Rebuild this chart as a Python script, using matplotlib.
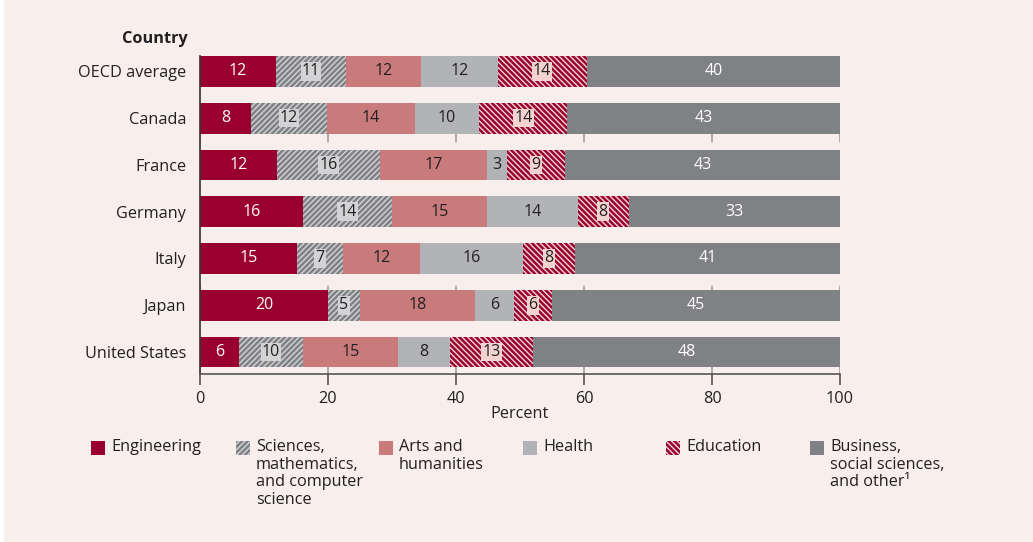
import numpy as np
import matplotlib.pyplot as plt
from matplotlib.patches import Rectangle

plt.rcParams['font.family'] = ['Open Sans', 'DejaVu Sans']
plt.rcParams['hatch.linewidth'] = 1.8

countries = ['OECD average', 'Canada', 'France', 'Germany', 'Italy', 'Japan', 'United States']
fields = ['Engineering', 'Sciences,\nmathematics,\nand computer\nscience', 'Arts and\nhumanities',
          'Health', 'Education', 'Business,\nsocial sciences,\nand other\u00b9']

engineering = [11.9, 8.0, 12.1, 16.1, 15.2, 20.0, 6.1]
sciences = [10.9, 11.8, 16.0, 13.9, 7.1, 5.0, 10.0]
arts = [11.8, 13.8, 16.8, 14.9, 12.1, 18.0, 14.8]
health = [11.9, 10.0, 3.0, 14.1, 16.0, 6.1, 8.2]
education = [13.9, 13.8, 9.1, 8.0, 8.2, 5.9, 12.9]
business = [39.6, 42.6, 43.0, 33.0, 41.4, 45.0, 48.0]

bg = '#f8eeec'
txt = '#231f20'
crimson = '#990030'
styles = [
    dict(color=crimson, hatch=None, edge=crimson, lab='white', box=None),
    dict(color='#d3d3d5', hatch='//////', edge='#808184', lab=txt, box='#d3d3d5'),
    dict(color='#c87b7a', hatch=None, edge='#c87b7a', lab=txt, box=None),
    dict(color='#b1b3b6', hatch=None, edge='#b1b3b6', lab=txt, box=None),
    dict(color='#f2d3cf', hatch='\\\\\\\\\\\\', edge=crimson, lab=txt, box='#f2d3cf'),
    dict(color='#808184', hatch=None, edge='#808184', lab='white', box=None),
]
series = [engineering, sciences, arts, health, education, business]

fig = plt.figure(figsize=(10.33, 5.42), dpi=100, facecolor='white')
fig.add_artist(Rectangle((4 / 1033, 0), 1, 1, transform=fig.transFigure, facecolor=bg,
                         edgecolor='none', zorder=-10))
ax = fig.add_axes([200 / 1033, 1 - 374 / 542, 640 / 1033, 318 / 542])
ax.set_facecolor(bg)

y = np.arange(len(countries))
left = np.zeros(len(countries))
for vals, st in zip(series, styles):
    vals = np.array(vals)
    ax.barh(y, vals, left=left, height=0.66, color=st['color'], hatch=st['hatch'],
            edgecolor=st['edge'], linewidth=0, zorder=2)
    for yi, l, v in zip(y, left, vals):
        bbox = None
        if st['box']:
            bbox = dict(boxstyle='square,pad=0.08', facecolor=st['box'], edgecolor='none')
        ax.text(l + v / 2, yi, f'{v:.0f}', ha='center', va='center', fontsize=11.5,
                color=st['lab'], bbox=bbox, zorder=3)
    left += vals

ax.set_xlim(0, 100)
ax.set_ylim(6.47, -0.33)
ax.set_xticks([0, 20, 40, 60, 80, 100])
ax.set_yticks(y)
ax.set_yticklabels(countries)
ax.tick_params(axis='y', length=0, pad=10, labelsize=11.7, labelcolor=txt)
ax.tick_params(axis='x', length=8, width=1.2, color='#555555', labelsize=11.7, labelcolor=txt, pad=4)
ax.xaxis.grid(True, color='#9d9d9f', linewidth=1.2, linestyle=(2, (8, 39)), zorder=0)
for s in ['top', 'right']:
    ax.spines[s].set_visible(False)
ax.spines['left'].set_color('#333333')
ax.spines['bottom'].set_color('#555555')
ax.spines['left'].set_linewidth(1.2)
ax.spines['bottom'].set_linewidth(1.2)
ax.set_xlabel('Percent', fontsize=11.7, color=txt, va='center')
ax.xaxis.set_label_coords(0.5, -0.126)
fig.text(188 / 1033, 1 - 39 / 542, 'Country', ha='right', va='center', fontsize=11.7,
         fontweight='bold', color=txt)

# legend
leg_x = [91, 236, 379, 523, 666, 810]
for lx, name, st in zip(leg_x, fields, styles):
    fig.add_artist(Rectangle((lx / 1033, 1 - 455 / 542), 14 / 1033, 14 / 542,
                             transform=fig.transFigure, facecolor=st['color'],
                             hatch=st['hatch'], edgecolor=st['edge'], linewidth=0))
    fig.text((lx + 20) / 1033, 1 - 439 / 542, name, ha='left', va='top', fontsize=11.7,
             color=txt, linespacing=1.13)

fig.savefig('out.png', dpi=100, facecolor=fig.get_facecolor())
